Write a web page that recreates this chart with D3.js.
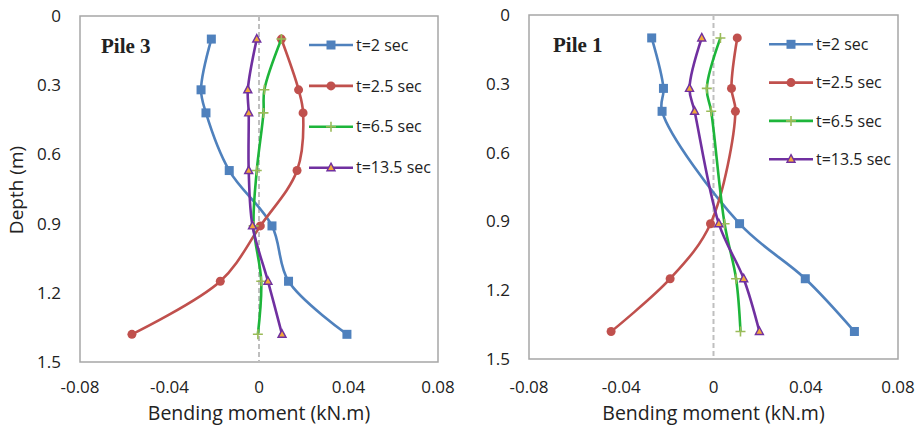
<!DOCTYPE html>
<html>
<head>
<meta charset="utf-8">
<script src="https://cdn.jsdelivr.net/npm/d3@7"></script>
<style>
  body { margin: 0; background: #fff; }
  svg text { font-family: "Open Sans", Lato, sans-serif; fill: #222; }
</style>
</head>
<body>
<div id="chart"></div>
<script>
// depths (m) where moments were read
const depthsPile3 = [0.1, 0.32, 0.42, 0.67, 0.91, 1.15, 1.38];
const depthsPile1 = [0.1, 0.32, 0.42, 0.91, 1.15, 1.38];

// bending moment (kN.m), pile 3
const pile3T2   = [-0.0213, -0.0259, -0.0237, -0.0133, 0.0058, 0.0132, 0.0393];
const pile3T25  = [0.0100, 0.0177, 0.0197, 0.0170, 0.0006, -0.0173, -0.0568];
const pile3T65  = [0.0100, 0.0024, 0.0020, -0.0010, -0.0024, 0.0010, -0.0005];
const pile3T135 = [-0.0010, -0.0050, -0.0046, -0.0046, -0.0029, 0.0040, 0.0103];

// bending moment (kN.m), pile 1
const pile1T2   = [-0.0268, -0.0217, -0.0223, 0.0113, 0.0398, 0.0611];
const pile1T25  = [0.0103, 0.0078, 0.0095, -0.0013, -0.0188, -0.0444];
const pile1T65  = [0.0030, -0.0029, -0.0010, 0.0048, 0.0098, 0.0117];
const pile1T135 = [-0.0051, -0.0104, -0.0082, 0.0023, 0.0131, 0.0199];

const seriesNames = ["t=2 sec", "t=2.5 sec", "t=6.5 sec", "t=13.5 sec"];
const xTicks = [-0.08, -0.04, 0, 0.04, 0.08];
const xTickLabels = ["-0.08", "-0.04", "0", "0.04", "0.08"];
const yTicks = [0, 0.3, 0.6, 0.9, 1.2, 1.5];
const yTickLabels = ["0", "0.3", "0.6", "0.9", "1.2", "1.5"];

const styles = [
    {line: "#4F81BD", marker: "square", fill: "#4F81BD", stroke: "#4F81BD"},
    {line: "#C0504D", marker: "circle", fill: "#C0504D", stroke: "#C0504D"},
    {line: "#1DB53A", marker: "plus", fill: "none", stroke: "#9BBB59"},
    {line: "#7030A0", marker: "triangle", fill: "#F2A83A", stroke: "#7030A0"}
];

const svg = d3.select("#chart").append("svg")
    .attr("width", 920)
    .attr("height", 427);

function drawMarker(g, type, st) {
    if (type === "square") {
        g.append("rect").attr("x", -4.5).attr("y", -4.5).attr("width", 9).attr("height", 9)
            .attr("fill", st.fill);
    } else if (type === "circle") {
        g.append("circle").attr("r", 4.5).attr("fill", st.fill);
    } else if (type === "plus") {
        g.append("path").attr("d", "M-5,0H5M0,-5V5")
            .attr("stroke", st.stroke).attr("stroke-width", 1.6).attr("fill", "none");
    } else {
        g.append("path").attr("d", "M0,-4.5L4,3L-4,3Z")
            .attr("fill", st.fill).attr("stroke", st.stroke).attr("stroke-width", 1.4);
    }
}

function panel(opts) {
    const x = d3.scaleLinear().domain([-0.08, 0.08]).range([opts.left, opts.right]);
    const y = d3.scaleLinear().domain([0, 1.5]).range([opts.top, opts.bottom]);
    const g = svg.append("g");

    // plot frame
    g.append("rect")
        .attr("x", opts.left).attr("y", opts.top)
        .attr("width", opts.right - opts.left).attr("height", opts.bottom - opts.top)
        .attr("fill", "none").attr("stroke", "#A6A6A6").attr("stroke-width", 1.5);

    // dashed zero line
    g.append("line")
        .attr("x1", x(0)).attr("x2", x(0)).attr("y1", opts.top).attr("y2", opts.bottom)
        .attr("stroke", "#BFBFBF").attr("stroke-width", 2).attr("stroke-dasharray", "5,3");

    // tick labels
    g.selectAll(".xt").data(xTicks).enter().append("text")
        .text((d, i) => xTickLabels[i])
        .attr("x", d => x(d)).attr("y", 393)
        .attr("text-anchor", "middle").attr("font-size", 17);
    g.selectAll(".yt").data(yTicks).enter().append("text")
        .text((d, i) => yTickLabels[i])
        .attr("x", opts.left - 19).attr("y", d => y(d)).attr("dy", "0.35em")
        .attr("text-anchor", "end").attr("font-size", 17);

    g.append("text").text("Bending moment (kN.m)")
        .attr("x", (opts.left + opts.right) / 2).attr("y", 420)
        .attr("text-anchor", "middle").attr("font-size", 19.5);

    g.append("text").text(opts.title)
        .attr("x", opts.titleX).attr("y", opts.titleY)
        .style("font-family", "'Liberation Serif', 'DejaVu Serif', serif")
        .attr("font-weight", "bold").attr("font-size", 21);

    const line = d3.line()
        .x(d => x(d[0]))
        .y(d => y(d[1]))
        .curve(d3.curveCatmullRom.alpha(0.5));

    opts.series.forEach((vals, i) => {
        const pts = vals.map((v, j) => [v, opts.depths[j]]);
        const st = styles[i];
        g.append("path")
            .attr("d", line(pts))
            .attr("fill", "none").attr("stroke", st.line).attr("stroke-width", 2.6);
        pts.forEach(p => {
            const m = g.append("g").attr("transform", `translate(${x(p[0])},${y(p[1])})`);
            drawMarker(m, st.marker, st);
        });
    });

    // legend
    seriesNames.forEach((name, i) => {
        const ly = opts.legendY + i * opts.legendGap;
        const st = styles[i];
        g.append("line")
            .attr("x1", opts.legendX).attr("x2", opts.legendX + 44)
            .attr("y1", ly).attr("y2", ly)
            .attr("stroke", st.line).attr("stroke-width", 2.6);
        const m = g.append("g").attr("transform", `translate(${opts.legendX + 22},${ly})`);
        drawMarker(m, st.marker, st);
        g.append("text").text(name)
            .attr("x", opts.legendX + 47).attr("y", ly).attr("dy", "0.35em")
            .attr("font-size", 16);
    });
    return {x, y};
}

panel({
    left: 80, right: 438, top: 16, bottom: 362,
    title: "Pile 3", titleX: 101, titleY: 53,
    depths: depthsPile3,
    series: [pile3T2, pile3T25, pile3T65, pile3T135],
    legendX: 309, legendY: 45, legendGap: 40.9
});

panel({
    left: 529, right: 898, top: 15, bottom: 359,
    title: "Pile 1", titleX: 553, titleY: 52,
    depths: depthsPile1,
    series: [pile1T2, pile1T25, pile1T65, pile1T135],
    legendX: 769, legendY: 44.3, legendGap: 38.3
});

// y axis title (left panel only)
svg.append("text").text("Depth (m)")
    .attr("transform", "translate(23,190) rotate(-90)")
    .attr("text-anchor", "middle").attr("font-size", 19);
</script>
</body>
</html>
